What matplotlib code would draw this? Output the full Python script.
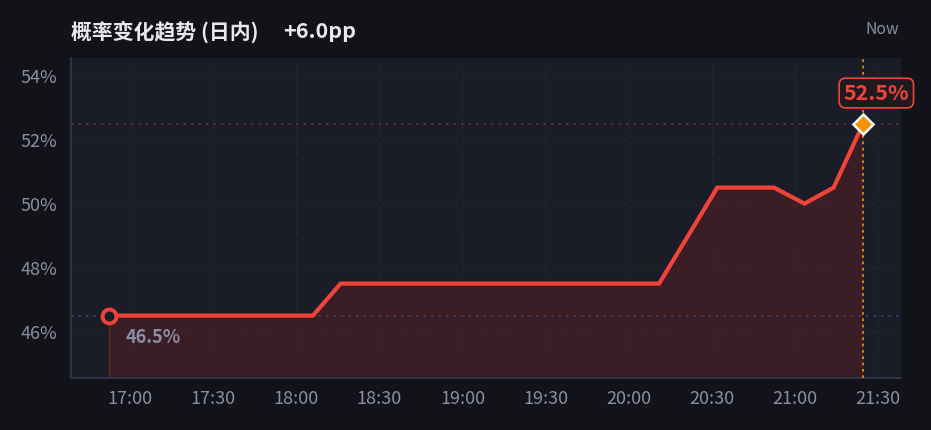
import matplotlib
matplotlib.use("Agg")
import matplotlib.pyplot as plt
import pandas as pd

plt.rcParams['font.family'] = ['Noto Sans CJK SC', 'DejaVu Sans']

# ---- data ----
times = ["16:52:30", "18:06:00", "18:16:00", "20:11:00", "20:32:00",
         "20:52:30", "21:03:30", "21:14:00", "21:24:40"]
probs = [46.5, 46.5, 47.5, 47.5, 50.5, 50.5, 50.0, 50.5, 52.5]
xtick_labels = ["17:00", "17:30", "18:00", "18:30", "19:00", "19:30",
                "20:00", "20:30", "21:00", "21:30"]
ytick_vals = [46, 48, 50, 52, 54]
title = "概率变化趋势 (日内)"
delta_label = "+6.0pp"
now_label = "Now"

day = "2024-01-01 "
t = pd.to_datetime([day + s for s in times])
xt = pd.to_datetime([day + s for s in xtick_labels])

BG = "#121318"
AX_BG = "#1a1c27"
RED = "#f04438"
GRAY = "#8b8ea3"

fig = plt.figure(figsize=(9.31, 4.30), dpi=100, facecolor=BG)
ax = fig.add_axes([71/931, 1-378/430, (901-71)/931, (378-58)/430])
ax.set_facecolor(AX_BG)

x0 = pd.Timestamp(day + "16:38:40")
x1 = pd.Timestamp(day + "21:38:20")
ax.set_xlim(x0, x1)
ax.set_ylim(44.55, 54.55)

# grid
for v in ytick_vals:
    ax.axhline(v, color="#252836", lw=0.8, ls=(0, (4, 4)), zorder=1)
for v in xt:
    ax.axvline(v, color="#252836", lw=0.8, ls=(0, (4, 4)), zorder=1)

# fill
ax.fill_between(t, probs, 44.55, color="#5a1f24", alpha=0.5, lw=0, zorder=2)
ax.plot([t[0], t[0]], [44.55, probs[0]], color="#6a2428", lw=1, zorder=2)

# reference lines
ax.axhline(probs[0], color="#3a4468", lw=1.2, ls=(0, (1.5, 3)), zorder=2)
ax.axhline(probs[-1], color="#6a3038", lw=1.2, ls=(0, (1.5, 3)), zorder=2)
ax.plot([t[-1], t[-1]], [44.55, 54.55], color="#e08a10", lw=1.3, ls=(0, (1.5, 2)), zorder=3)

# line
ax.plot(t, probs, color=RED, lw=3, zorder=4, solid_joinstyle="miter")
ax.plot([t[0]], [probs[0]], marker="o", ms=10, mfc=AX_BG, mec=RED, mew=2.8, zorder=5)
ax.plot([t[-1]], [probs[-1]], marker="D", ms=10, mfc="#f59000", mec="white", mew=1.8, zorder=5)

# annotations
ax.annotate(f"{probs[0]}%", (t[0], probs[0]), xytext=(11.5, -16), textcoords="offset points",
            color=GRAY, fontsize=13, fontweight="bold", va="center", ha="left", zorder=6)
ax.annotate(f"{probs[-1]}%", (t[-1], probs[-1]), xytext=(9.5, 22), textcoords="offset points",
            color=RED, fontsize=15.5, fontweight="bold", va="center", ha="center", zorder=6,
            bbox=dict(boxstyle="round,pad=0.2,rounding_size=0.3", fc="#201a20", ec=RED, lw=1.2))

# axes styling
ax.set_xticks(xt)
ax.set_xticklabels(xtick_labels)
ax.set_yticks(ytick_vals)
ax.set_yticklabels([f"{v}%" for v in ytick_vals])
ax.tick_params(axis="both", length=0, colors=GRAY, labelsize=13)
ax.tick_params(axis="x", pad=8.5)
ax.tick_params(axis="y", pad=10)
for s in ["top", "right"]:
    ax.spines[s].set_visible(False)
for s in ["left", "bottom"]:
    ax.spines[s].set_color("#2e3142")
    ax.spines[s].set_linewidth(1.5)

fig.text(71/931, 1-32/430, title, color="#e8e9ee", fontsize=15, fontweight="bold",
         va="center", ha="left")
fig.text(283/931, 1-32/430, delta_label, color="#e8e9ee", fontsize=15.5, fontweight="bold",
         va="center", ha="left")
fig.text(899/931, 1-30/430, now_label, color=GRAY, fontsize=11.3, va="center", ha="right")

fig.savefig("out.png", dpi=100, facecolor=BG)
